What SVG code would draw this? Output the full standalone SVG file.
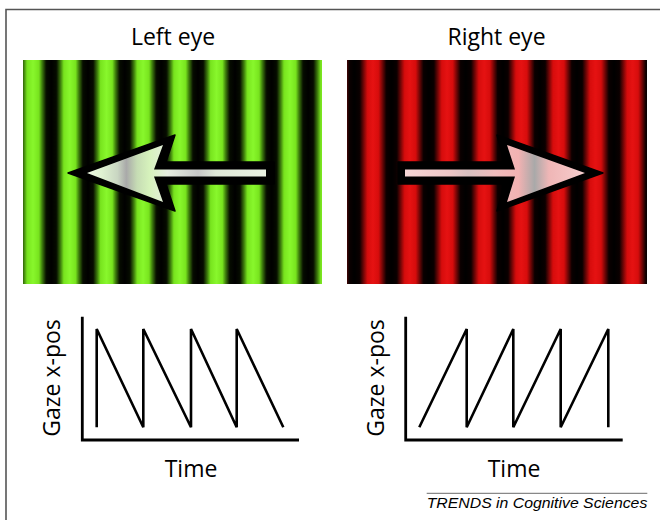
<svg xmlns="http://www.w3.org/2000/svg" width="660" height="520" viewBox="0 0 660 520">
  <style>
    .title { font-family: "Open Sans", "Noto Sans", "DejaVu Sans", sans-serif; font-size: 23px; fill: #000; text-anchor: middle; }
    .plot { fill: none; stroke: #000; stroke-width: 2.6; stroke-linejoin: miter; }
    .axis { fill: none; stroke: #000; stroke-width: 2.8; }
    .outline { fill: #000; stroke: #000; stroke-width: 1.5; stroke-linejoin: round; }
  </style>
  <defs>
    <linearGradient id="gStripe" x1="0" y1="0" x2="1" y2="0">
      <stop offset="0" stop-color="#000000"/>
      <stop offset="0.14" stop-color="#060c00"/>
      <stop offset="0.25" stop-color="#3d7c0c"/>
      <stop offset="0.34" stop-color="#78e41e"/>
      <stop offset="0.5" stop-color="#88f72c"/>
      <stop offset="0.66" stop-color="#78e41e"/>
      <stop offset="0.75" stop-color="#3d7c0c"/>
      <stop offset="0.86" stop-color="#060c00"/>
      <stop offset="1" stop-color="#000000"/>
    </linearGradient>
    <linearGradient id="rStripe" x1="0" y1="0" x2="1" y2="0">
      <stop offset="0" stop-color="#000000"/>
      <stop offset="0.14" stop-color="#0a0000"/>
      <stop offset="0.25" stop-color="#740606"/>
      <stop offset="0.35" stop-color="#d60c0c"/>
      <stop offset="0.5" stop-color="#e61212"/>
      <stop offset="0.65" stop-color="#d60c0c"/>
      <stop offset="0.75" stop-color="#740606"/>
      <stop offset="0.86" stop-color="#0a0000"/>
      <stop offset="1" stop-color="#000000"/>
    </linearGradient>
    <pattern id="gPat" patternUnits="userSpaceOnUse" x="14.65" y="0" width="36.7" height="520">
      <rect x="0" y="0" width="36.7" height="520" fill="url(#gStripe)"/>
    </pattern>
    <pattern id="rPat" patternUnits="userSpaceOnUse" x="354.45" y="0" width="37.1" height="520">
      <rect x="0" y="0" width="37.1" height="520" fill="url(#rStripe)"/>
    </pattern>
    <linearGradient id="gArrow" gradientUnits="userSpaceOnUse" x1="87" y1="0" x2="266" y2="0">
      <stop offset="0" stop-color="#eef8e4"/>
      <stop offset="0.08" stop-color="#e0f2d2"/>
      <stop offset="0.17" stop-color="#c9d6c2"/>
      <stop offset="0.22" stop-color="#a9a9a9"/>
      <stop offset="0.28" stop-color="#c6dcb4"/>
      <stop offset="0.35" stop-color="#d6f2bc"/>
      <stop offset="0.45" stop-color="#e6ede0"/>
      <stop offset="0.62" stop-color="#c6c6c6"/>
      <stop offset="0.72" stop-color="#dfe8d8"/>
      <stop offset="1" stop-color="#eaf2e2"/>
    </linearGradient>
    <linearGradient id="rArrow" gradientUnits="userSpaceOnUse" x1="405" y1="0" x2="585" y2="0">
      <stop offset="0" stop-color="#f6d6d6"/>
      <stop offset="0.25" stop-color="#eec6c6"/>
      <stop offset="0.35" stop-color="#d8c0c0"/>
      <stop offset="0.5" stop-color="#f0bcbc"/>
      <stop offset="0.63" stop-color="#f2b2b2"/>
      <stop offset="0.72" stop-color="#a9a9a9"/>
      <stop offset="0.8" stop-color="#efb6b6"/>
      <stop offset="0.9" stop-color="#f3c2c2"/>
      <stop offset="1" stop-color="#f6d0d0"/>
    </linearGradient>
  </defs>

  <rect x="0" y="0" width="660" height="520" fill="#ffffff"/>
  <path d="M6,520 V9.5 H660" fill="none" stroke="#555555" stroke-width="1.6"/>

  <g id="left-eye">
    <text class="title" x="173" y="45">Left eye</text>
    <rect x="23" y="60" width="299" height="224" fill="url(#gPat)"/>
    <path class="outline" d="M68,173 L175,135 L166,162 L274,162 L274,184 L166,184 L175,211 Z"/>
    <path d="M87,173 L163,145 L154,169.5 L266,169.5 L266,176.5 L154,176.5 L163,202 Z" fill="url(#gArrow)"/>
  </g>

  <g id="right-eye">
    <text class="title" x="496.5" y="45">Right eye</text>
    <rect x="347" y="60" width="300" height="224" fill="url(#rPat)"/>
    <path class="outline" d="M603,173 L497,135 L504,162 L398,162 L398,184 L504,184 L497,211 Z"/>
    <path d="M585,173 L507,145 L515,169.5 L405,169.5 L405,176.5 L515,176.5 L507,202 Z" fill="url(#rArrow)"/>
  </g>

  <g id="left-graph">
    <path class="axis" d="M82.3,316.7 V440 H299"/>
    <path class="plot" d="M96.7,427.3 V329 L143.3,427.3 V329 L191,427.3 V329 L236.7,427.3 V329 L283.3,427.3"/>
    <text class="title" transform="translate(60,378) rotate(-90)" x="0" y="0">Gaze x-pos</text>
    <text class="title" x="191" y="476.7">Time</text>
  </g>

  <g id="right-graph">
    <path class="axis" d="M405.7,316.7 V440 H622.7"/>
    <path class="plot" d="M419.3,427.3 L466.7,329 V427.3 L513.3,329 V427.3 L560.7,329 V427.3 L608.3,329 V427.3"/>
    <text class="title" transform="translate(384,378) rotate(-90)" x="0" y="0">Gaze x-pos</text>
    <text class="title" x="514" y="476.7">Time</text>
  </g>

  <g id="footer">
    <line x1="426.7" y1="493.3" x2="647.3" y2="493.3" stroke="#888888" stroke-width="1.3"/>
    <text x="426.7" y="508.3" font-family="'Liberation Sans', Arial, sans-serif" font-style="italic" font-size="14" textLength="220.6" lengthAdjust="spacingAndGlyphs" fill="#000">TRENDS in Cognitive Sciences</text>
  </g>
</svg>
